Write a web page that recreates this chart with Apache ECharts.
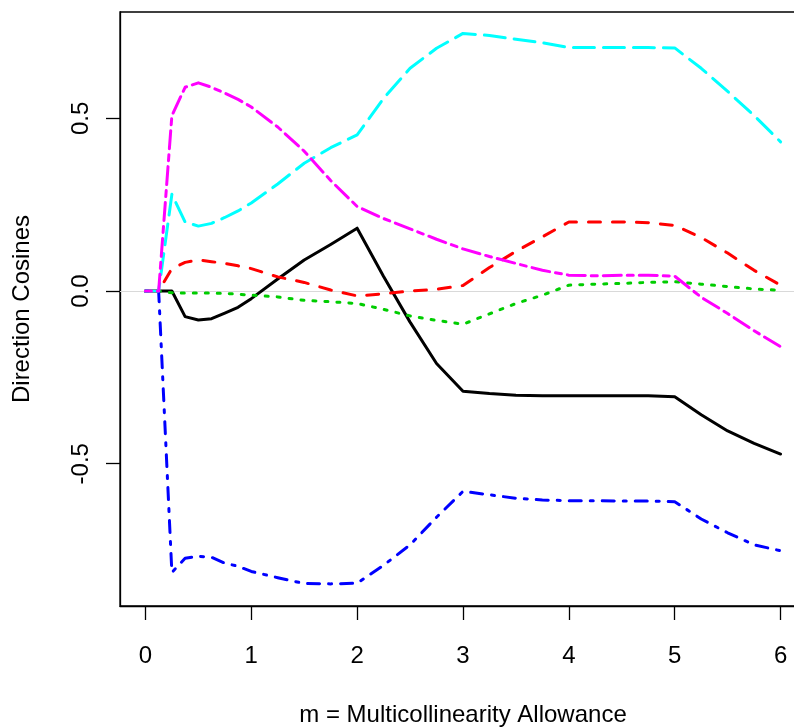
<!DOCTYPE html>
<html>
<head>
<meta charset="utf-8">
<script src="https://cdn.jsdelivr.net/npm/echarts@6/dist/echarts.min.js"></script>
<style>
html,body{margin:0;padding:0;background:#fff;}
#chart{width:794px;height:728px;}
</style>
</head>
<body>
<div id="chart"></div>
<script>
// m = Multicollinearity Allowance
const mValues = [0, 0.125, 0.25, 0.375, 0.5, 0.625, 0.75, 0.875, 1, 1.25, 1.5, 1.75, 2, 2.25, 2.5, 2.75, 3, 3.25, 3.5, 3.75, 4, 4.25, 4.5, 4.75, 5, 5.25, 5.5, 5.75, 6];

const dirBlack   = [0, 0, 0, -0.074, -0.084, -0.080, -0.064, -0.047, -0.022, 0.035, 0.090, 0.135, 0.182, 0.042, -0.090, -0.210, -0.290, -0.297, -0.302, -0.303, -0.303, -0.303, -0.303, -0.303, -0.306, -0.358, -0.405, -0.441, -0.472];
const dirRed     = [0, 0, 0.065, 0.083, 0.090, 0.085, 0.080, 0.073, 0.065, 0.041, 0.025, 0.003, -0.014, -0.008, 0.000, 0.005, 0.016, 0.068, 0.115, 0.157, 0.200, 0.200, 0.200, 0.198, 0.190, 0.155, 0.110, 0.060, 0.017];
const dirGreen   = [0, 0, -0.005, -0.006, -0.006, -0.006, -0.007, -0.009, -0.012, -0.017, -0.027, -0.031, -0.036, -0.053, -0.072, -0.085, -0.096, -0.066, -0.036, -0.012, 0.017, 0.020, 0.022, 0.025, 0.027, 0.020, 0.013, 0.006, 0.002];
const dirBlue    = [0, 0, -0.815, -0.774, -0.768, -0.771, -0.788, -0.797, -0.812, -0.830, -0.847, -0.848, -0.846, -0.794, -0.735, -0.655, -0.580, -0.590, -0.600, -0.605, -0.607, -0.607, -0.608, -0.608, -0.610, -0.660, -0.700, -0.735, -0.752];
const dirCyan    = [0, 0, 0.280, 0.200, 0.188, 0.196, 0.213, 0.232, 0.255, 0.310, 0.370, 0.415, 0.452, 0.558, 0.645, 0.703, 0.746, 0.740, 0.729, 0.719, 0.705, 0.705, 0.705, 0.705, 0.704, 0.645, 0.578, 0.508, 0.432];
const dirMagenta = [0, 0, 0.508, 0.590, 0.603, 0.590, 0.573, 0.555, 0.533, 0.475, 0.405, 0.320, 0.245, 0.210, 0.180, 0.150, 0.122, 0.100, 0.080, 0.060, 0.046, 0.044, 0.046, 0.046, 0.043, -0.018, -0.065, -0.115, -0.161];

const xTicks = [0, 1, 2, 3, 4, 5, 6];
const yTicks = [-0.5, 0, 0.5];

const xTitle = 'm = Multicollinearity Allowance';
const yTitle = 'Direction Cosines';

const FONT = '"Liberation Sans", Arial, Helvetica, sans-serif';
const LW = 3;

function pairs(vals) { return mValues.map((m, i) => [m, vals[i]]); }

const styles = [
  { data: dirBlack,   color: '#000000', type: 'solid' },
  { data: dirRed,     color: '#ff0000', type: [12, 12] },
  { data: dirGreen,   color: '#00cd00', type: [3, 9] },
  { data: dirBlue,    color: '#0000ff', type: [3, 9, 12, 9] },
  { data: dirCyan,    color: '#00ffff', type: [21, 9] },
  { data: dirMagenta, color: '#ff00ff', type: [6, 6, 18, 6] }
];

const series = styles.map((s, i) => {
  const o = {
    type: 'line',
    data: pairs(s.data),
    showSymbol: false,
    symbol: 'none',
    silent: true,
    z: 3 + i,
    lineStyle: { color: s.color, width: LW, type: s.type, cap: 'round', join: 'round' }
  };
  if (i === 0) {
    o.markLine = {
      silent: true,
      symbol: 'none',
      label: { show: false },
      lineStyle: { color: '#d9d9d9', width: 1.2, type: 'solid' },
      data: [{ yAxis: 0 }],
      z: 1
    };
  }
  return o;
});

const chart = echarts.init(document.getElementById('chart'), null, { renderer: 'canvas' });
chart.setOption({
  animation: false,
  backgroundColor: '#ffffff',
  grid: {
    left: 120, top: 12, width: 686, height: 594,
    containLabel: false,
    outerBoundsMode: 'none',
    show: true, borderColor: '#000', borderWidth: 1.3, backgroundColor: 'transparent'
  },
  xAxis: {
    type: 'value',
    min: -0.24, max: 6.24,
    name: xTitle,
    nameLocation: 'middle',
    nameGap: 97,
    nameTextStyle: { fontFamily: FONT, fontSize: 24, color: '#000' },
    axisLine: { show: true, onZero: false, lineStyle: { color: '#000', width: 1.3 } },
    axisTick: { show: true, customValues: xTicks, length: 14, lineStyle: { color: '#000', width: 1.3 } },
    axisLabel: { customValues: xTicks, margin: 38, fontFamily: FONT, fontSize: 24, color: '#000', formatter: v => String(v) },
    splitLine: { show: false }
  },
  yAxis: {
    type: 'value',
    min: -0.912, max: 0.808,
    name: yTitle,
    nameLocation: 'middle',
    nameGap: 86,
    nameRotate: 90,
    nameTextStyle: { fontFamily: FONT, fontSize: 24, color: '#000' },
    axisLine: { show: true, onZero: false, lineStyle: { color: '#000', width: 1.3 } },
    axisTick: { show: true, customValues: yTicks, length: 14, lineStyle: { color: '#000', width: 1.3 } },
    axisLabel: { customValues: yTicks, rotate: 90, margin: 27, fontFamily: FONT, fontSize: 24, color: '#000', formatter: v => v.toFixed(1) },
    splitLine: { show: false }
  },
  series: series
});
</script>
</body>
</html>
